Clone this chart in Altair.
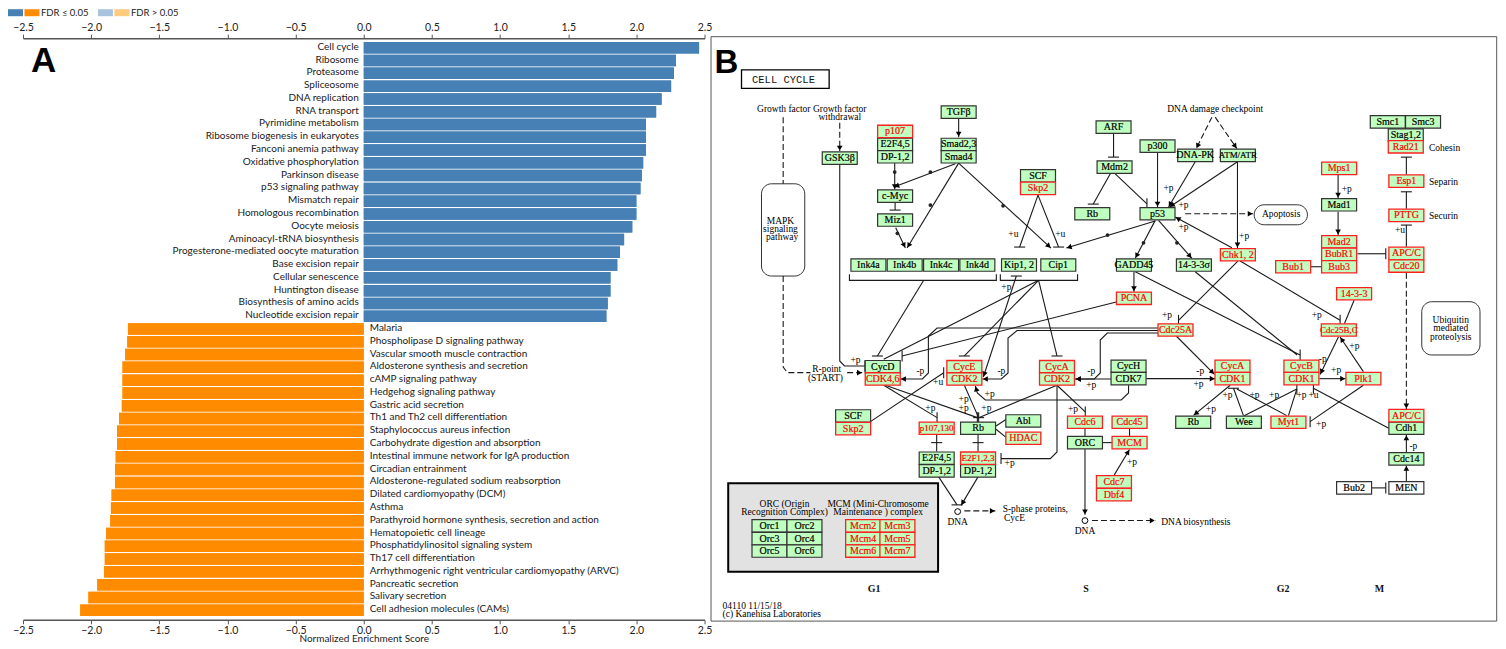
import math
import altair as alt
import pandas as pd

# ---------- Panel A values ----------
up_terms = ["Cell cycle", "Ribosome", "Proteasome", "Spliceosome", "DNA replication", "RNA transport",
            "Pyrimidine metabolism", "Ribosome biogenesis in eukaryotes", "Fanconi anemia pathway",
            "Oxidative phosphorylation", "Parkinson disease", "p53 signaling pathway", "Mismatch repair",
            "Homologous recombination", "Oocyte meiosis", "Aminoacyl-tRNA biosynthesis",
            "Progesterone-mediated oocyte maturation", "Base excision repair", "Cellular senescence",
            "Huntington disease", "Biosynthesis of amino acids", "Nucleotide excision repair"]
up_nes = [2.46, 2.29, 2.275, 2.255, 2.185, 2.145, 2.07, 2.07, 2.07, 2.05, 2.04, 2.03, 2.00, 2.00, 1.97,
          1.91, 1.88, 1.86, 1.81, 1.81, 1.79, 1.78]
down_terms = ["Malaria", "Phospholipase D signaling pathway", "Vascular smooth muscle contraction",
              "Aldosterone synthesis and secretion", "cAMP signaling pathway", "Hedgehog signaling pathway",
              "Gastric acid secretion", "Th1 and Th2 cell differentiation", "Staphylococcus aureus infection",
              "Carbohydrate digestion and absorption", "Intestinal immune network for IgA production",
              "Circadian entrainment", "Aldosterone-regulated sodium reabsorption",
              "Dilated cardiomyopathy (DCM)", "Asthma", "Parathyroid hormone synthesis, secretion and action",
              "Hematopoietic cell lineage", "Phosphatidylinositol signaling system", "Th17 cell differentiation",
              "Arrhythmogenic right ventricular cardiomyopathy (ARVC)", "Pancreatic secretion",
              "Salivary secretion", "Cell adhesion molecules (CAMs)"]
down_nes = [-1.73, -1.735, -1.75, -1.77, -1.77, -1.77, -1.775, -1.795, -1.81, -1.81, -1.82, -1.825, -1.825,
            -1.85, -1.855, -1.86, -1.89, -1.90, -1.90, -1.905, -1.955, -2.02, -2.08]
BLUE, ORANGE, LBLUE, LORANGE = "#4680B4", "#FF8C00", "#A9C3DE", "#FFCB7F"

# ---------- Panel B: diagram content, in diagram units ----------
nodes = [  # name, x, y, state (g green, r red-marked, w white)
 ("TGFβ",958.3,111,"g"),("Smad2,3",958.3,143.3,"g"),("Smad4",958.3,155.7,"g"),("p107",894.7,130.3,"r"),
 ("E2F4,5",894.7,143.3,"g"),("DP-1,2",894.7,155.7,"g"),("GSK3β",839.3,157,"g"),("c-Myc",894.7,195,"g"),
 ("Miz1",894.7,219,"g"),("Ink4a",868,264,"g"),("Ink4b",904.3,264,"g"),("Ink4c",940.7,264,"g"),
 ("Ink4d",977,264,"g"),("Kip1, 2",1018.7,264,"g"),("Cip1",1058,264,"g"),("SCF",1037.7,174.7,"g"),
 ("Skp2",1037.7,187.3,"r"),("ARF",1113.3,126,"g"),("Mdm2",1114.3,166,"g"),("Rb",1092,212.7,"g"),
 ("p300",1157.3,145,"g"),("DNA-PK",1195,154.3,"g"),("ATM/ATR",1237.7,154.3,"g"),("p53",1157.3,212.7,"g"),
 ("GADD45",1133.7,264,"g"),("14-3-3σ",1193.7,264,"g"),("Chk1, 2",1237.7,253.7,"r"),("PCNA",1133.7,297.3,"r"),
 ("Cdc25A",1175.3,329,"r"),("14-3-3",1354,292.7,"r"),("Cdc25B,C",1338.7,329,"r"),("Mps1",1339,167.3,"r"),
 ("Mad1",1339,203.7,"g"),("Mad2",1339,240.7,"r"),("BubR1",1339,253.3,"r"),("Bub3",1339,265.7,"r"),
 ("Bub1",1293,265.7,"r"),("Smc1",1387.7,120.7,"g"),("Smc3",1423,120.7,"g"),("Stag1,2",1405.7,134,"g"),
 ("Rad21",1405.7,145.7,"r"),("Esp1",1406.3,180,"r"),("PTTG",1406.3,214.3,"r"),("APC/C",1406.3,252.3,"r"),
 ("Cdc20",1406.3,265,"r"),("CycD",882.3,365.7,"g"),("CDK4,6",882.3,378,"r"),("CycE",964,365.7,"r"),
 ("CDK2",964,378,"r"),("CycA",1056.7,365.7,"r"),("CDK2",1056.7,378,"r"),("SCF",852.7,415,"g"),
 ("Skp2",852.7,427.7,"r"),("p107,130",936.3,427.3,"r"),("Rb",977.7,427.3,"g"),("Abl",1023,420,"g"),
 ("HDAC",1023,437.3,"r"),("Cdc6",1084.7,421.3,"r"),("ORC",1084.7,441.7,"g"),("E2F4,5",936.3,457.3,"g"),
 ("DP-1,2",936.3,470,"g"),("E2F1,2,3",977.7,457.3,"r"),("DP-1,2",977.7,470,"g"),("CycH",1128.3,365.3,"g"),
 ("CDK7",1128.3,377.7,"g"),("CycA",1232.3,365.3,"r"),("CDK1",1232.3,377.7,"r"),("CycB",1301.3,365.3,"r"),
 ("CDK1",1301.3,377.7,"r"),("Plk1",1363.3,377.7,"r"),("Rb",1193,421.3,"g"),("Wee",1243.7,421.3,"g"),
 ("Myt1",1288.3,421.3,"r"),("Cdc45",1129.3,421.3,"r"),("MCM",1129.3,441.7,"r"),("Cdc7",1113.7,481,"r"),
 ("Dbf4",1113.7,493.7,"r"),("APC/C",1406.3,414.7,"r"),("Cdh1",1406.3,427.3,"g"),("Cdc14",1406.3,458,"g"),
 ("MEN",1406.3,487,"w"),("Bub2",1354,487,"w"),
 ("Orc1",769,525,"g"),("Orc2",804,525,"g"),("Orc3",769,537.7,"g"),("Orc4",804,537.7,"g"),
 ("Orc5",769,550.2,"g"),("Orc6",804,550.2,"g"),("Mcm2",862.7,525,"r"),("Mcm3",897,525,"r"),
 ("Mcm4",862.7,537.7,"r"),("Mcm5",897,537.7,"r"),("Mcm6",862.7,550.2,"r"),("Mcm7",897,550.2,"r"),
]
narrow_names = ["ATM/ATR", "p107,130", "E2F1,2,3", "Cdc25B,C"]
edges = [  # dash flag, end kind (a arrow, t inhibition bar, n none), path
 (1,"n",[(782.7,116),(782.7,182.7)]),
 (1,"n",[(782.7,275),(782.7,366),(787,371.7),(810,371.7)]),
 (1,"a",[(846.7,371.7),(862,371.7)]),
 (1,"a",[(839.3,121.7),(839.3,150)]),
 (0,"t",[(839.3,163.3),(839.3,360),(844,365),(864.5,365)]),
 (0,"a",[(958.3,117.3),(958.3,136)]),
 (0,"a",[(894.3,161.7),(894.3,188.5)]),
 (0,"a",[(955,162.7),(893.5,186)]),
 (0,"t",[(894.7,201.7),(894.7,209)]),
 (0,"a",[(895.3,226.7),(905,247)]),
 (0,"a",[(958.3,162),(906.7,247)]),
 (0,"a",[(958.3,162),(1050.7,247)]),
 (0,"t",[(1037.7,194),(1019.3,246)]),
 (0,"t",[(1037.7,194),(1058.3,246)]),
 (0,"a",[(1155,220),(1066,247)]),
 (0,"n",[(849,273.3),(849,279.3),(996,279.3),(996,273.3)]),
 (0,"n",[(1000,273.3),(1000,279.3),(1077.3,279.3),(1077.3,273.3)]),
 (0,"t",[(923.3,279.3),(877,355)]),
 (0,"n",[(1038.3,279.3),(883.3,358.3)]),
 (0,"t",[(1116,301),(901.7,355)]),
 (0,"t",[(1038.3,279.3),(964,355)]),
 (0,"t",[(1038.3,279.3),(1056.7,355)]),
 (0,"a",[(1016,275),(983,376)]),
 (0,"a",[(1158,327),(936.7,327),(928,335),(928,372),(922,378),(900,378)]),
 (0,"a",[(1158,329.5),(1016.7,329.5),(1007.7,337),(1007.7,372),(1001,378),(982,378)]),
 (0,"a",[(1158,332),(1107,332),(1100,339),(1100,372),(1094,378),(1075,378)]),
 (0,"t",[(870,420.7),(943.3,371.7)]),
 (0,"t",[(883.3,384.3),(936.7,416.7)]),
 (0,"t",[(885,384.3),(977,416.7)]),
 (0,"t",[(964,384.3),(978.3,416.7)]),
 (0,"t",[(1056.7,384.3),(978.3,416.7)]),
 (0,"t",[(1056.7,384.3),(1056.7,451),(1050,457.7),(1000.7,457.7)]),
 (0,"t",[(1056.7,384.3),(1085,411)]),
 (0,"a",[(1110.7,378),(1075,378)]),
 (0,"a",[(1146,377.7),(1215,377.7)]),
 (0,"a",[(1176,335),(1214.3,373.3)]),
 (0,"a",[(1128.3,384.3),(1128.3,392),(1121,399),(985,399),(977,392),(975,385)]),
 (0,"t",[(1237.7,260),(1178.3,319.3)]),
 (0,"t",[(1240,260),(1340,319.3)]),
 (0,"n",[(1354,299.3),(1344.3,322.7)]),
 (0,"a",[(1133.7,270.7),(1133.7,290.7)]),
 (0,"t",[(1135,270.7),(1300,354)]),
 (0,"n",[(1195,270.7),(1297,354)]),
 (0,"a",[(1155,219.3),(1135,257.3)]),
 (0,"a",[(1158.3,219.3),(1191.7,257.3)]),
 (0,"t",[(1110,172.7),(1093,203)]),
 (0,"t",[(1115,172.7),(1146.7,202.7)]),
 (0,"t",[(1113.3,132.3),(1113.3,156)]),
 (0,"a",[(1157.3,151.7),(1157.3,206)]),
 (0,"a",[(1195,160.7),(1168.3,206)]),
 (0,"a",[(1237.3,160.7),(1169.3,206)]),
 (0,"a",[(1237.3,160.7),(1237.3,247)]),
 (0,"a",[(1231.7,246.7),(1175,216)]),
 (1,"a",[(1185,212.7),(1253,212.7)]),
 (1,"a",[(1211.7,116),(1196,147.5)]),
 (1,"a",[(1215,116),(1236.7,147.5)]),
 (0,"a",[(1338,174),(1338,197)]),
 (0,"a",[(1338,210.7),(1338,234)]),
 (0,"t",[(1357.3,252.7),(1385.7,252.7)]),
 (0,"n",[(1310.7,265.7),(1321.7,265.7)]),
 (0,"t",[(1406.3,245.7),(1406.3,224)]),
 (0,"t",[(1406.3,207.7),(1406.3,190.7)]),
 (0,"t",[(1406.3,173.3),(1406.3,156)]),
 (1,"a",[(1406.3,271.7),(1406.3,408)]),
 (0,"t",[(1388.7,427.3),(1313.3,387.3)]),
 (0,"a",[(1406.3,451.7),(1406.3,434)]),
 (0,"a",[(1406.3,480.7),(1406.3,464.5)]),
 (0,"t",[(1371.7,487),(1385.7,487)]),
 (0,"a",[(1319.3,377.7),(1345.5,377.7)]),
 (0,"a",[(1363.3,370.7),(1340,336)]),
 (0,"a",[(1338.3,336),(1320,373.5)]),
 (0,"a",[(1230,384.3),(1193.3,414.5)]),
 (0,"t",[(1243.3,414.7),(1233.3,387.3)]),
 (0,"n",[(1286.7,414.7),(1236.7,388)]),
 (0,"t",[(1244,414.7),(1296.7,388)]),
 (0,"n",[(1288.3,414.7),(1296.7,388)]),
 (0,"t",[(1363.3,384.3),(1310,420.7)]),
 (0,"n",[(1129.3,428),(1129.3,435)]),
 (0,"n",[(1102.3,441.7),(1111.7,441.7)]),
 (0,"a",[(1114,474),(1129.3,448.5)]),
 (0,"n",[(1084.7,428),(1084.7,435)]),
 (0,"a",[(1084.7,448.3),(1084.7,514)]),
 (1,"a",[(1091.7,519.7),(1155,519.7)]),
 (0,"n",[(995.7,425),(1006,418.3)]),
 (0,"n",[(995.7,428.3),(1006,436.7)]),
 (0,"t",[(977.7,434),(977.7,441.7)]),
 (0,"n",[(977.7,441.7),(977.7,450.7)]),
 (0,"t",[(936.3,434),(936.3,441.7)]),
 (0,"n",[(936.3,441.7),(936.3,450.7)]),
 (0,"t",[(938.3,476),(956.7,504)]),
 (0,"a",[(977.7,476),(960.7,504.5)]),
 (1,"a",[(964,510),(995,510)]),
]
kip_bar = [(1016,275)]
e_dots = [(894.3,171),(930,171),(897,232.3),(930,204),(1002.7,204.7),(1107.3,234),(1143.3,241.7),(1176.7,241.7)]
dna_circles = [(957.3,510.7),(1084.7,519.7)]
center_text = [
 ("Growth factor",783.3,108),("Growth factor",839.3,108),("withdrawal",839.3,116.3),
 ("MAPK",780,220),("signaling",780,228.3),("pathway",781.7,236),("DNA damage checkpoint",1215,108),
 ("Apoptosis",1281,213.3),("Ubiquitin",1450.7,319.3),("mediated",1450.7,327.3),("proteolysis",1450.7,335.7),
 ("R-point",826.3,368.3),("(START)",825,376.7),("DNA",957.3,521),("DNA",1084.7,530),
 ("ORC (Origin",784,502.7),("Recognition Complex)",784,511),("MCM (Mini-Chromosome",877.7,502.7),
 ("Maintenance ) complex",877.7,511),
]
left_text = [
 ("Cohesin",1429,147.3),("Separin",1429,181),("Securin",1429,215.3),("S-phase proteins,",1002.3,507.7),
 ("CycE",1003.7,516.7),("DNA biosynthesis",1161,520.7),("04110 11/15/18",722,605.3),
 ("(c) Kanehisa Laboratories",722,613.3),
]
phase_text = [("G1",873.7,588),("S",1085.7,588),("G2",1283,588),("M",1379.3,588)]
sign_text = [
 ("+u",1013,233),("+u",1060,233),("+p",1006,286),("+p",855,359),("-p",920,370),("+u",937.7,380.7),
 ("+p",930,407.3),("+p",963.3,398.3),("+p",963.3,407.3),("+p",986,407.3),("-p",1001,370),("+p",1009.3,462.3),
 ("+p",1072.7,408.3),("-p",1091,370),("+p",1091,384.3),("+p",1198.3,383.3),("-p",1200,370),("+p",989.3,393.3),
 ("+p",1166.7,314),("+p",1316.7,314),("+p",1168.3,186.7),("+p",1183.3,204),("+p",1244,235),("+p",1183.3,225.7),
 ("+p",1346.7,188.3),("+u",1400,229.3),("+u",1313.3,394),("-p",1413.3,445),("+p",1336,369.3),("+p",1354.3,345),
 ("-p",1322.7,357.7),("+p",1210.7,408.3),("+p",1321,422.7),("+p",1227.3,394),("+p",1254.3,394),("+p",1274,394),
 ("+p",1301.3,394),("+p",1131.7,460.7),
]
rounded_boxes = [(761,804.3,182.7,275),(1254,1307.3,203.7,223.7),(1421.7,1480,300.7,354)]

# ---------- Panel A chart ----------
terms = up_terms + down_terms
bars = pd.DataFrame({"term": terms, "nes": up_nes + down_nes,
                     "side": ["up"] * len(up_terms) + ["down"] * len(down_terms)})
SANS = "Lato"
xscale = alt.Scale(domain=[-2.5, 2.5])
yscale = alt.Scale(domain=terms, paddingInner=0.1, paddingOuter=0.3)
axis_kw = dict(values=[-2.5,-2,-1.5,-1,-0.5,0,0.5,1,1.5,2,2.5], format=".1f", grid=False, labelFont=SANS,
               labelFontSize=10.5, labelColor="#222", domainColor="#555", domainWidth=1.5, tickColor="#555",
               tickSize=4, labelPadding=2, labelFlush=False)
bar_color = alt.Color("side:N", scale=alt.Scale(domain=["up", "down"], range=[BLUE, ORANGE]), legend=None)
top = alt.Chart(bars).mark_bar().encode(
    x=alt.X("nes:Q", scale=xscale, axis=alt.Axis(orient="top", title=None, **axis_kw)),
    y=alt.Y("term:N", scale=yscale, axis=None), color=bar_color)
bottom = alt.Chart(bars).mark_bar().encode(
    x=alt.X("nes:Q", scale=xscale, axis=alt.Axis(orient="bottom", title="Normalized Enrichment Score",
            titleFont=SANS, titleFontSize=10, titleFontWeight="normal", titleColor="#222", titlePadding=-3, **axis_kw)),
    y=alt.Y("term:N", scale=yscale, axis=None), color=bar_color)
lab_up = alt.Chart(bars[bars.side == "up"]).mark_text(align="right", dx=-5, dy=-1, font=SANS, fontSize=10, color="#1a1a1a").encode(
    x=alt.X(datum=0, scale=xscale, axis=None), y=alt.Y("term:N", scale=yscale, axis=None), text="term:N")
lab_dn = alt.Chart(bars[bars.side == "down"]).mark_text(align="left", dx=6, dy=-1, font=SANS, fontSize=10, color="#1a1a1a").encode(
    x=alt.X(datum=0, scale=xscale, axis=None), y=alt.Y("term:N", scale=yscale, axis=None), text="term:N")

def swatch(x0, x1, c):
    return alt.Chart(pd.DataFrame({"c": [c]})).mark_rect(color=c).encode(
        x=alt.value(x0), x2=alt.value(x1), y=alt.value(-29), y2=alt.value(-22))
def note(x0, y0, t, size=9.5, font=SANS, weight="normal"):
    return alt.Chart(pd.DataFrame({"t": [t]})).mark_text(align="left", baseline="middle", font=font, fontSize=size,
        fontWeight=weight, color="#222" if size < 20 else "black").encode(x=alt.value(x0), y=alt.value(y0), text="t:N")
legend_parts = [swatch(-15, 0, BLUE), swatch(1.5, 16.5, ORANGE), note(18, -25, "FDR ≤ 0.05"),
                swatch(75, 90, LBLUE), swatch(91.5, 106.5, LORANGE), note(108, -25, "FDR > 0.05")]
panel_a = alt.layer(top, bottom, lab_up, lab_dn, *legend_parts, note(8, 23, "A", size=35, font="Liberation Sans", weight="bold")
    ).resolve_axis(x="independent").properties(width=682, height=582)

# ---------- Panel B chart ----------
DX = alt.Scale(domain=[710, 1497])
DY = alt.Scale(domain=[620, 37])
px = lambda f: alt.X(f, scale=DX, axis=None)
py = lambda f: alt.Y(f, scale=DY, axis=None)
SERIF = "Liberation Serif"

def box_layer(df, **mk):
    return alt.Chart(df).mark_rect(**mk).encode(x=px("x1:Q"), x2="x2:Q", y=py("y1:Q"), y2="y2:Q")

frame = box_layer(pd.DataFrame({"x1":[710.5],"x2":[1496.7],"y1":[35.5],"y2":[620.3]}), fill="white", stroke="#555", strokeWidth=1)
inset = box_layer(pd.DataFrame({"x1":[727.7],"x2":[937.7],"y1":[482.3],"y2":[571]}), fill="#E2E2E2", stroke="black", strokeWidth=2)
titlebox = box_layer(pd.DataFrame({"x1":[741],"x2":[828.7],"y1":[68.7],"y2":[87.3]}), fill="white", stroke="black", strokeWidth=1.3)
rdf = pd.DataFrame(rounded_boxes, columns=["x1","x2","y1","y2"])
rounded = [box_layer(rdf, fill="white", stroke="#333", cornerRadius=10)]

rows, heads, tees = [], [], []
for i, (dash, end, path) in enumerate(edges):
    for j, (x, y) in enumerate(path):
        rows.append({"id": i, "o": j, "x": x, "y": y, "dash": dash})
    (xa, ya), (xb, yb) = path[-2], path[-1]
    ln = math.hypot(xb - xa, yb - ya) or 1
    if end == "a":
        heads.append({"x": xb - 3 * (xb - xa) / ln, "y": yb - 3 * (yb - ya) / ln,
                      "a": math.degrees(math.atan2(xb - xa, -(yb - ya))) % 360})
    elif end == "t":
        if abs(yb - ya) >= abs(xb - xa):
            tees.append({"x1": xb - 5.5, "x2": xb + 5.5, "y1": yb, "y2": yb})
        else:
            tees.append({"x1": xb, "x2": xb, "y1": yb - 5.5, "y2": yb + 5.5})
for (xb, yb) in kip_bar:
    tees.append({"x1": xb - 5.5, "x2": xb + 5.5, "y1": yb, "y2": yb})
edf = pd.DataFrame(rows)
def lines(sub, **mk):
    return alt.Chart(sub).mark_line(color="#1a1a1a", strokeWidth=1.1, **mk).encode(
        x=px("x:Q"), y=py("y:Q"), detail="id:N", order="o:Q")
solid = lines(edf[edf.dash == 0])
dashed = lines(edf[edf.dash == 1], strokeDash=[6, 3])
head = alt.Chart(pd.DataFrame(heads)).mark_point(shape="triangle-up", filled=True, size=32, color="black", opacity=1).encode(
    x=px("x:Q"), y=py("y:Q"), angle=alt.Angle("a:Q", scale=None))
tee = alt.Chart(pd.DataFrame(tees)).mark_rule(color="#1a1a1a", strokeWidth=1.1).encode(
    x=px("x1:Q"), x2="x2:Q", y=py("y1:Q"), y2="y2:Q")

ndf = pd.DataFrame(nodes, columns=["name", "x", "y", "state"])
ndf["x1"], ndf["x2"], ndf["y1"], ndf["y2"] = ndf.x - 17.5, ndf.x + 17.5, ndf.y - 6.2, ndf.y + 6.2
ndf["long"] = ndf.name.isin(narrow_names)
LIGHT_GREEN = "#BFFFBF"
rect_g = box_layer(ndf[ndf.state == "g"], fill=LIGHT_GREEN, stroke="#333333", strokeWidth=1.2)
rect_w = box_layer(ndf[ndf.state == "w"], fill="white", stroke="#333333", strokeWidth=1.2)
rect_r = box_layer(ndf[ndf.state == "r"], fill=LIGHT_GREEN, stroke="#FF2020", strokeWidth=1.3)

def node_names(df, colour, size):
    return alt.Chart(df).mark_text(font=SERIF, fontSize=size, baseline="middle", color=colour,
                                   stroke=colour, strokeWidth=0.2).encode(
        x=px("x:Q"), y=py("y:Q"), text="name:N")
black_nodes = ndf[ndf.state != "r"]
red_nodes = ndf[ndf.state == "r"]
node_text = [node_names(black_nodes[~black_nodes.long], "#000000", 10),
             node_names(black_nodes[black_nodes.long], "#000000", 9),
             node_names(red_nodes[~red_nodes.long], "#FF0000", 10),
             node_names(red_nodes[red_nodes.long], "#FF0000", 9)]

def texts(items, size=9.5, **mk):
    df = pd.DataFrame(items, columns=["t", "x", "y"])
    return alt.Chart(df).mark_text(font=SERIF, fontSize=size, baseline="middle", color="#000", **mk).encode(
        x=px("x:Q"), y=py("y:Q"), text="t:N")
dots = alt.Chart(pd.DataFrame(e_dots, columns=["x", "y"])).mark_point(filled=True, size=14, color="#222", opacity=1).encode(
    x=px("x:Q"), y=py("y:Q"))
circles = alt.Chart(pd.DataFrame(dna_circles, columns=["x", "y"])).mark_point(filled=True, fill="white", stroke="black",
    strokeWidth=1, size=34, opacity=1).encode(x=px("x:Q"), y=py("y:Q"))
title_b = alt.Chart(pd.DataFrame({"t": ["CELL  CYCLE"], "x": [783], "y": [78.5]})).mark_text(
    font="Liberation Mono", fontSize=10.5, baseline="middle", color="#111").encode(x=px("x:Q"), y=py("y:Q"), text="t:N")
letter_b = alt.Chart(pd.DataFrame({"t": ["B"], "x": [714], "y": [61.5]})).mark_text(
    font="Liberation Sans", fontWeight="bold", fontSize=33, align="left", baseline="middle", color="black").encode(
    x=px("x:Q"), y=py("y:Q"), text="t:N")
phase = alt.Chart(pd.DataFrame(phase_text, columns=["t", "x", "y"])).mark_text(
    font=SERIF, fontWeight="bold", fontSize=10, baseline="middle", color="#111").encode(x=px("x:Q"), y=py("y:Q"), text="t:N")

panel_b = alt.layer(frame, inset, titlebox, *rounded, solid, dashed, tee, rect_g, rect_w, rect_r, head, dots, circles,
                    *node_text, texts(center_text), texts(left_text, align="left"), texts(sign_text), phase,
                    title_b, letter_b).properties(width=787, height=583)

chart = alt.hconcat(panel_a, panel_b, spacing=6, bounds="flush").properties(padding=0, background="white"
        ).configure_view(stroke=None)
chart.save("out.html", embed_options={"renderer": "svg", "actions": False})
